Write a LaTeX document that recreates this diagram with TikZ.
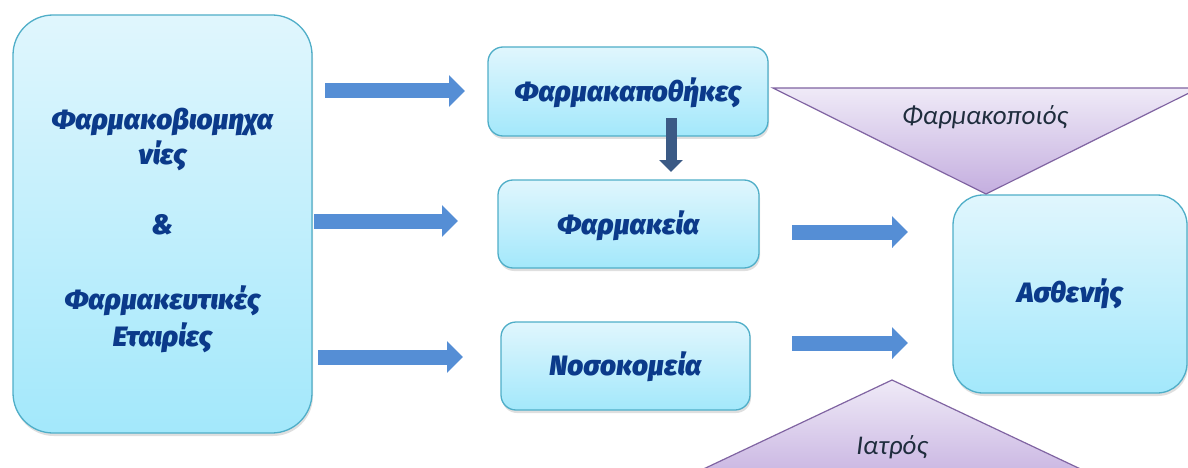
\documentclass[tikz,border=0pt]{standalone}
\usepackage{fontspec}
\setmainfont{Fira Sans}
\newfontfamily\heavyfont{Fira Sans Black Italic}
\newfontfamily\trifont{Carlito}
\usetikzlibrary{arrows.meta,shadows}
\definecolor{boxtop}{HTML}{E0F6FD}
\definecolor{boxbot}{HTML}{A3E8FB}
\definecolor{boxline}{HTML}{4FAEC8}
\definecolor{txtblue}{HTML}{0B3A8A}
\definecolor{arrblue}{HTML}{558ED5}
\definecolor{arrdark}{HTML}{3B5A85}
\definecolor{tritop}{HTML}{EFEAF7}
\definecolor{tribot}{HTML}{C4AEDF}
\definecolor{triline}{HTML}{8064A2}
\definecolor{tritext}{HTML}{1F2D3D}
\begin{document}
\begin{tikzpicture}[x=1pt,y=-1pt,
  box/.style={draw=boxline, line width=1.3pt, top color=boxtop, bottom color=boxbot,
    rounded corners=15pt, inner sep=0pt, align=center, text=txtblue,
    font=\heavyfont\fontsize{28}{37}\selectfont,
    drop shadow={opacity=0.25, shadow xshift=1pt, shadow yshift=-3pt}},
  fat/.style={draw=arrblue, line width=15pt, -{Triangle[width=31pt,length=16pt]}},
  slim/.style={draw=arrdark, line width=11pt, -{Triangle[width=23pt,length=12pt]}},
  tri/.style={draw=triline, line width=1.2pt, top color=tritop, bottom color=tribot, line join=miter},
  trilabel/.style={text=tritext, font=\trifont\itshape\fontsize{27}{30}\selectfont, inner sep=0pt}
]
\useasboundingbox (0,0) rectangle (1188,468);
\clip (0,0) rectangle (1188,468);
\fill[white] (0,0) rectangle (1188,468);

% boxes
\node[box, rounded corners=40pt, minimum width=299pt, minimum height=418pt] (makers) at (162.5,224)
  {\rule{0pt}{34pt}Φαρμακοβιομηχα\\[-2pt]νίες\\[33pt]\&\\[38pt]Φαρμακευτικές\\Εταιρίες};
\node[box, minimum width=280pt, minimum height=89pt] (stores) at (628,91.5) {\rule{0pt}{26pt}Φαρμακαποθήκες};
\node[box, minimum width=261pt, minimum height=88pt] (pharmacy) at (628.5,224) {\rule{0pt}{28pt}Φαρμακεία};
\node[box, minimum width=249pt, minimum height=88pt] (hospital) at (625.5,366) {\rule{0pt}{25pt}Νοσοκομεία};
\node[box, rounded corners=30pt, minimum width=234pt, minimum height=198pt] (patient) at (1070,294) {\rule{0pt}{24pt}Ασθενής};

% arrow end points
\coordinate (a1s) at (325,91);  \coordinate (a1e) at (465,91);
\coordinate (a2s) at (314,221); \coordinate (a2e) at (458,221);
\coordinate (a3s) at (318,357); \coordinate (a3e) at (463,357);
\coordinate (a4s) at (792,232); \coordinate (a4e) at (908,232);
\coordinate (a5s) at (792,343); \coordinate (a5e) at (908,343);
\coordinate (dds) at (671,118); \coordinate (dde) at (671,172);

\draw[fat] (a1s) -- (a1e);
\draw[fat] (a2s) -- (a2e);
\draw[fat] (a3s) -- (a3e);
\draw[fat] (a4s) -- (a4e);
\draw[fat] (a5s) -- (a5e);
\draw[slim] (dds) -- (dde);

% triangles
\path[tri] (773,88) -- (1199,88) -- (986,194) -- cycle;
\node[trilabel] (pharmacist) at (985,117) {Φαρμακοποιός};
\path[tri] (892,380) -- (1125,490) -- (659,490) -- cycle;
\node[trilabel] (doctor) at (892,447) {Ιατρός};
\end{tikzpicture}
\end{document}
